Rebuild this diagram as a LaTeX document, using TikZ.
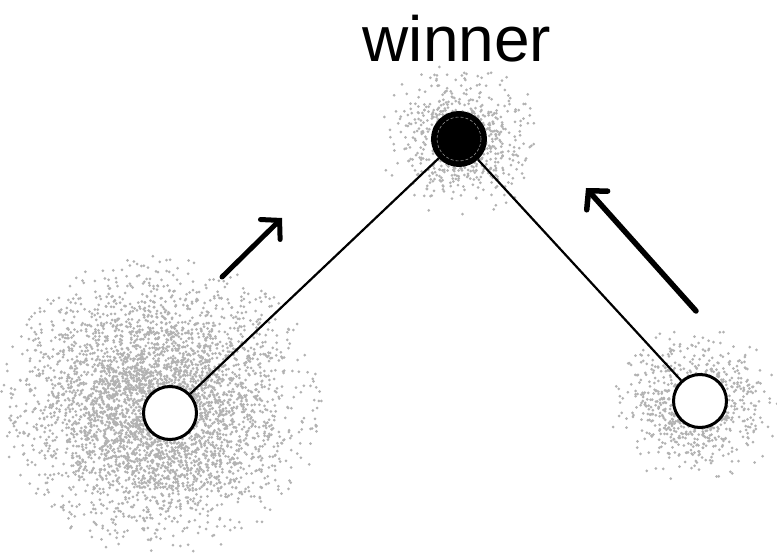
\documentclass[tikz,border=0pt]{standalone}
\usepackage{fontspec}
\setmainfont{Liberation Sans}
\usetikzlibrary{arrows.meta}
\tikzset{
  dotc/.style={fill=black!30},
  unit/.style={circle, draw, line width=3pt, minimum size=53pt, inner sep=0pt, fill=white},
  link/.style={line width=2.2pt},
  movearrow/.style={line cap=round, -{Straight Barb[length=13pt, width=28pt, line cap=round]}},
}
\newcommand{\mycloud}[6]{% n, cx, cy, sx, sy, umin
  \foreach \i in {1,...,#1}{%
    \pgfmathsetmacro\rr{sqrt(-2*ln(#6+(1-#6)*rnd))}%
    \pgfmathsetmacro\tt{360*rnd}%
    \fill[dotc] ({#2+#4*\rr*cos(\tt)},{#3+#5*\rr*sin(\tt)}) circle (1.5);
  }%
}
\begin{document}
\begin{tikzpicture}[x=1pt,y=-1pt]
\useasboundingbox (0,0) rectangle (777,553);
\pgfmathsetseed{11}
\mycloud{4200}{160}{405}{64}{60}{0.04}
\mycloud{750}{460}{140}{32}{30}{0.03}
\mycloud{850}{695}{405}{34}{30}{0.03}
\node[font=\fontsize{64}{64}\selectfont, anchor=base, inner sep=0pt] (T) at (457,62) {winner};
\node[unit, fill=black] (W) at (459,139) {};
\draw[white!55!black, line width=0.6pt, densely dashed] (W.center) circle (22);
\node[unit] (L) at (170,413) {};
\node[unit] (R) at (700,401) {};
\draw[link] (L) -- (W);
\draw[link] (W) -- (R);
\coordinate (a1s) at (222,277);
\coordinate (a1e) at (282,218);
\coordinate (a2s) at (696,311);
\coordinate (a2e) at (586,188);
\draw[movearrow, line width=5pt] (a1s) -- (a1e);
\draw[movearrow, line width=5.5pt] (a2s) -- (a2e);
\end{tikzpicture}
\end{document}
